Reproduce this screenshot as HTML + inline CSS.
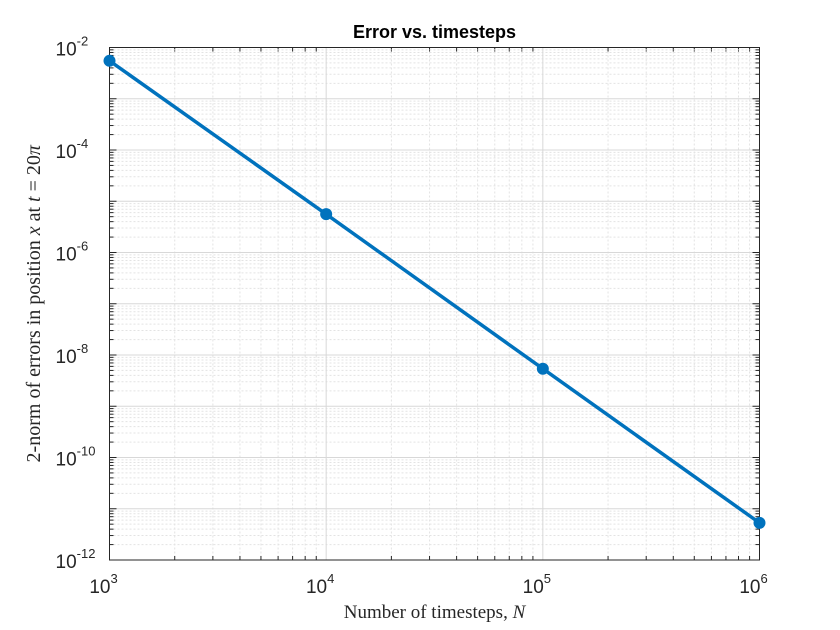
<!DOCTYPE html>
<html><head><meta charset="utf-8"><style>
body{margin:0;background:#fff;}
svg{display:block;font-family:"Liberation Sans",sans-serif;}
</style></head><body>
<svg id="c" width="840" height="630"></svg>
<script>
const xExp=[3,4,5,6];
const nValues=[1e3,1e4,1e5,1e6];
const errValues=[5.5e-3,5.6e-6,5.4e-9,5.3e-12];
const yTickExp=[-2,-4,-6,-8,-10,-12];
const L=109.5,R=759.5,T=47.5,B=560;
const xs=v=>L+(Math.log10(v)-3)/3*(R-L);
const ys=v=>T+(-2-Math.log10(v))/10*(B-T);
const svg=document.getElementById('c');
const NS='http://www.w3.org/2000/svg';
function mk(t,a,p){const e=document.createElementNS(NS,t);for(const k in a)e.setAttribute(k,a[k]);(p||svg).appendChild(e);return e;}
mk('rect',{x:0,y:0,width:840,height:630,fill:'#fff'});
const grid=mk('g',{});


for(let d=3;d<6;d++)for(let m=2;m<10;m++){const x=xs(m*Math.pow(10,d));
mk('line',{x1:x,x2:x,y1:T,y2:B,stroke:'#e3e3e3','stroke-dasharray':'2,2','stroke-width':1},grid);
mk('line',{x1:x,x2:x,y1:B,y2:B-4,stroke:'#262626'},grid);mk('line',{x1:x,x2:x,y1:T,y2:T+4,stroke:'#262626'},grid);}
for(let d=-12;d<-2;d++)for(let m=2;m<10;m++){const y=ys(m*Math.pow(10,d));
mk('line',{x1:L,x2:R,y1:y,y2:y,stroke:'#e3e3e3','stroke-dasharray':'2,2','stroke-width':1},grid);
mk('line',{x1:L,x2:L+4,y1:y,y2:y,stroke:'#262626'},grid);mk('line',{x1:R,x2:R-4,y1:y,y2:y,stroke:'#262626'},grid);}
for(let d=-12;d<=-2;d++){const y=ys(Math.pow(10,d));mk('line',{x1:L,x2:R,y1:y,y2:y,stroke:'#d8d8d8'},grid);
mk('line',{x1:L,x2:L+7,y1:y,y2:y,stroke:'#262626'},grid);mk('line',{x1:R,x2:R-7,y1:y,y2:y,stroke:'#262626'},grid);}
xExp.forEach(e=>{const x=xs(Math.pow(10,e));mk('line',{x1:x,x2:x,y1:T,y2:B,stroke:'#d8d8d8'},grid);
const t=mk('text',{x:x-6,y:B+33,'font-size':19,fill:'#262626','text-anchor':'middle'});t.textContent='10';
const s=mk('tspan',{dy:-10,'font-size':13},t);s.textContent=e;

});
yTickExp.forEach(e=>{const y=ys(Math.pow(10,e));
const t=mk('text',{x:L-54,y:y+8,'font-size':19,fill:'#262626'});t.textContent='10';
const s=mk('tspan',{dy:-10,'font-size':13},t);s.textContent=e;

});
const box=mk('rect',{x:L,y:T,width:R-L,height:B-T,fill:'none',stroke:'#262626','stroke-width':1});


const pts=nValues.map((n,i)=>xs(n)+','+ys(errValues[i])).join(' ');
const line=mk('polyline',{points:pts,fill:'none',stroke:'#0072BD','stroke-width':3.5});


nValues.forEach((n,i)=>{const c=mk('circle',{cx:xs(n),cy:ys(errValues[i]),r:6,fill:'#0072BD'});

});
const title=mk('text',{x:(L+R)/2,y:38,'font-size':18,'font-weight':'bold','text-anchor':'middle',fill:'#000'});
title.textContent='Error vs. timesteps';


const xl=mk('text',{x:(L+R)/2,y:618,'font-size':19,'text-anchor':'middle',fill:'#262626','font-family':'Liberation Serif, serif'});
xl.innerHTML='Number of timesteps, <tspan font-style="italic">N</tspan>';


const yl=mk('text',{x:0,y:0,'font-size':20,'text-anchor':'middle',fill:'#262626','font-family':'Liberation Serif, serif',transform:'translate(40,'+((T+B)/2)+') rotate(-90)'});
yl.innerHTML='2-norm of errors in position <tspan font-style="italic">x</tspan> at <tspan font-style="italic">t</tspan> = 20<tspan font-style="italic">π</tspan>';


</script>
</body></html>
